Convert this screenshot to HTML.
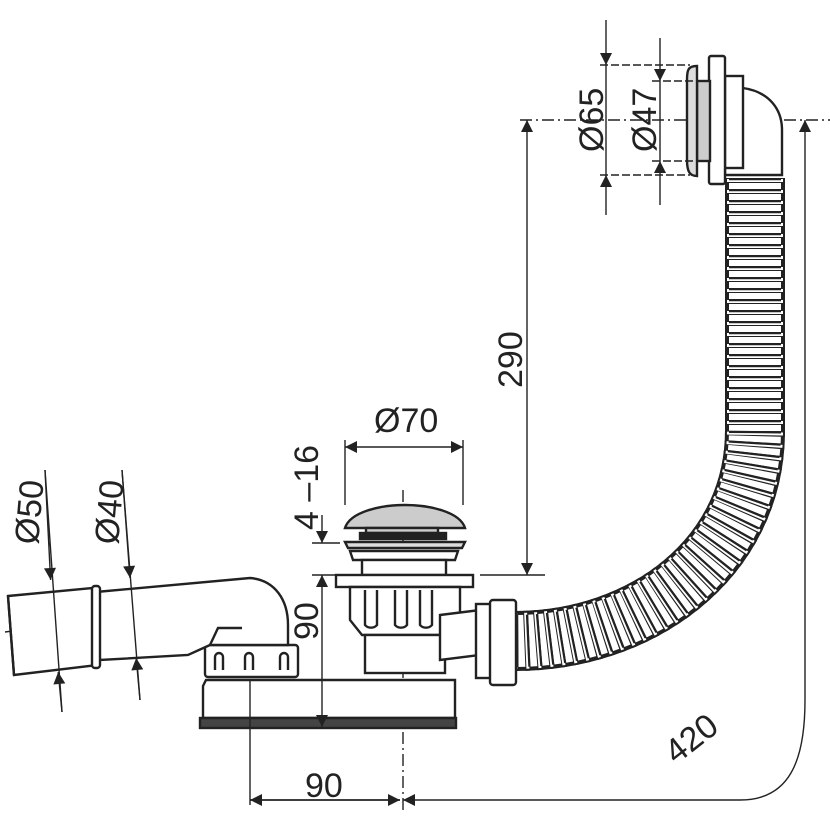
<!DOCTYPE html>
<html><head><style>body{margin:0;background:#fff}svg{display:block}text{font-family:"Liberation Sans",sans-serif;fill:#222}</style></head><body>
<svg width="830" height="830" viewBox="0 0 830 830" xmlns="http://www.w3.org/2000/svg">
<defs>
<marker id="a" viewBox="0 0 10 10" refX="10" refY="5" markerWidth="18" markerHeight="12" orient="auto-start-reverse" markerUnits="userSpaceOnUse"><path d="M0,0L10,5L0,10z" fill="#222"/></marker>
</defs>
<g stroke="#222" fill="none" stroke-width="1.4">
<path d="M520,120H830" stroke-dasharray="12,4,2,4"/>
<path d="M403,490V810" stroke-dasharray="12,4,2,4"/>
<path d="M5,632L248,600" stroke-dasharray="12,4,2,4"/>
<path d="M755,178L755,430C755,560 640,641 515,641" stroke-width="60"/>
<path d="M755,178L755,430C755,560 640,641 515,641" stroke="#fff" stroke-width="52"/>
<path d="M755,178L755,430C755,560 640,641 515,641" stroke-width="60" stroke-dasharray="5,6"/>
<path d="M755,178L755,430C755,560 640,641 515,641" stroke="#fff" stroke-width="56" stroke-dasharray="3,8" stroke-dashoffset="-1"/>
<path d="M755,178L755,430C755,560 640,641 515,641" stroke-width="52" stroke-dasharray="2.2,8.8"/>
<g stroke-width="2.4" fill="#fff">
<path d="M743,88C770,92 782,110 782,130L782,175H725V88z"/>
<rect x="725" y="76" width="18" height="92"/>
<rect x="709" y="56" width="16" height="128" rx="2"/>
<rect x="697" y="81" width="13" height="80" fill="#ccc"/>
<path d="M697,66C688,66 687,70 687,80V160C687,172 690,176 697,176z" fill="#ddd"/>
</g>
<g stroke-width="2.4" fill="#fff">
<path d="M345,528C350,512 380,505 405,505C430,505 460,512 465,528z" fill="#ccc"/>
<rect x="366" y="528" width="72" height="5" fill="#ccc"/>
<rect x="360" y="533" width="86" height="6" fill="#222"/>
<path d="M345,542H465L462,548H348z" fill="#ddd"/>
<path d="M350,551H458L455,560H353z"/>
<rect x="362" y="560" width="84" height="15"/>
<rect x="336" y="575" width="137" height="12"/>
<path d="M350,587H460V620L447,635H362L350,620z"/>
<path d="M365,590V625a8,8 0 0 0 12,0V590M395,590V625a8,8 0 0 0 12,0V590M420,590V625a8,8 0 0 0 12,0V590"/>
<rect x="365" y="635" width="80" height="38"/>
<path d="M440,615L480,610V655L440,660z"/>
<rect x="476" y="604" width="16" height="74"/>
<rect x="490" y="600" width="26" height="85" rx="3"/>
<path d="M206,680H455V718H203V686z"/>
<rect x="200" y="718" width="256" height="10" fill="#444"/>
<rect x="205" y="645" width="93" height="32" rx="3"/>
<path d="M215,670V657a4,4 0 0 1 8,0V670M245,670V657a4,4 0 0 1 8,0V670M280,670V657a4,4 0 0 1 8,0V670"/>
</g>
<g stroke-width="2.4" fill="#fff">
<path d="M96,592L250,578C275,580 288,600 288,625V645H210L188,655L100,660z"/>
<path d="M210,645L218,628H242"/>
<path d="M8,596L92,588L98,665L14,675z"/>
<path d="M8,596L14,675"/>
<rect x="92" y="586" width="8" height="82" rx="3"/>
</g>
<path d="M606,20V65" marker-end="url(#a)"/>
<path d="M606,215V175" marker-end="url(#a)"/>
<path d="M660,38V81" marker-end="url(#a)"/>
<path d="M660,205V161" marker-end="url(#a)"/>
<path d="M606,65V175M660,81V161"/>
<path d="M600,65H690M600,175H690M652,81H700M652,161H700" stroke-dasharray="8,3"/>
<path d="M527,120V575" marker-start="url(#a)" marker-end="url(#a)"/>
<path d="M480,575H545"/>
<path d="M345,447H463" marker-start="url(#a)" marker-end="url(#a)"/>
<path d="M345,440V505M463,440V505"/>
<path d="M322,515V543" marker-end="url(#a)"/>
<path d="M312,543H340M312,575H336"/>
<path d="M322,575V727" marker-start="url(#a)" marker-end="url(#a)"/>
<path d="M250,680V805"/>
<path d="M400,800H250" marker-end="url(#a)"/>
<path d="M250,800H400" marker-end="url(#a)"/>
<path d="M403,800H740C790,800 805,760 805,700V120" marker-start="url(#a)" marker-end="url(#a)"/>
<path d="M45,470L62,712"/>
<path d="M45,470L50.6,580" marker-end="url(#a)"/>
<path d="M62,712L58.2,672" marker-end="url(#a)"/>
<path d="M122,470L140,700"/>
<path d="M122,470L130,578" marker-end="url(#a)"/>
<path d="M140,700L136.2,658" marker-end="url(#a)"/>
</g>
<g font-size="34">
<text transform="translate(603,152) rotate(-90)">Ø65</text>
<text transform="translate(656,152) rotate(-90)">Ø47</text>
<text transform="translate(522,388) rotate(-90)">290</text>
<text x="374" y="432">Ø70</text>
<text transform="translate(318,530) rotate(-90)">4 –16</text>
<text transform="translate(318,640) rotate(-90)">90</text>
<text x="305" y="797">90</text>
<text transform="translate(676,765) rotate(-38)">420</text>
<text transform="translate(38,545) rotate(-85)">Ø50</text>
<text transform="translate(118,545) rotate(-85)">Ø40</text>
</g>
</svg>
</body></html>
